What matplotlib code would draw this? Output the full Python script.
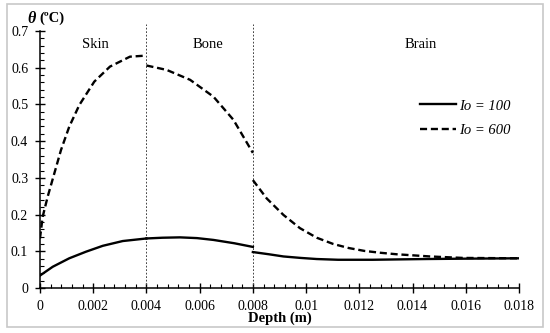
import matplotlib
matplotlib.use('Agg')
import matplotlib.pyplot as plt
from matplotlib.patches import Rectangle
from matplotlib.ticker import MultipleLocator

plt.rcParams['font.family'] = ['Liberation Serif', 'DejaVu Serif']

# Io = 100, solid line, one piece per layer
skin_x_100 = [0.0, 0.00048, 0.0011, 0.00173, 0.00236, 0.00311, 0.004]
skin_y_100 = [0.034, 0.058, 0.081, 0.099, 0.115, 0.128, 0.135]
bone_x_100 = [0.004, 0.0046, 0.00526, 0.0059, 0.00652, 0.0073, 0.008]
bone_y_100 = [0.135, 0.137, 0.138, 0.136, 0.131, 0.122, 0.112]
brain_x_100 = [0.008, 0.0086, 0.00915, 0.0098, 0.0104, 0.0112, 0.0125, 0.0145, 0.016, 0.018]
brain_y_100 = [0.098, 0.092, 0.086, 0.082, 0.079, 0.077, 0.077, 0.079, 0.080, 0.081]

# Io = 600, dashed line
skin_x_600 = [0.0, 0.0001, 0.00029, 0.00054, 0.00079, 0.0011, 0.00148, 0.00204,
              0.00263, 0.00338, 0.004]
skin_y_600 = [0.135, 0.194, 0.249, 0.3125, 0.376, 0.4395, 0.4986, 0.562,
              0.603, 0.630, 0.633]
bone_x_600 = [0.004, 0.00476, 0.00564, 0.00652, 0.00727, 0.008]
bone_y_600 = [0.606, 0.594, 0.567, 0.521, 0.458, 0.368]
brain_x_600 = [0.008, 0.00852, 0.00915, 0.00977, 0.0104, 0.01102, 0.0116, 0.0122,
               0.0128, 0.0134, 0.01466, 0.0159, 0.018]
brain_y_600 = [0.294, 0.244, 0.199, 0.163, 0.137, 0.120, 0.109, 0.101,
               0.096, 0.092, 0.086, 0.082, 0.081]

layer_names = ['Skin', 'Bone', 'Brain']
layer_label_x = [0.0021, 0.0063, 0.0143]
boundaries = [0.004, 0.008]

fig = plt.figure(figsize=(5.5, 3.33), dpi=100)
ax = fig.add_axes([0.0727, 0.135, 0.8709, 0.772])

fig.patches.append(Rectangle((7 / 550, 6 / 333), 536 / 550, 323 / 333,
                             transform=fig.transFigure, fill=False,
                             edgecolor='#c8c8c8', linewidth=1.2))

for b in boundaries:
    ax.plot([b, b], [0, 0.72], color='#444444', lw=0.7, ls=(0, (1.8, 1.8)), clip_on=False)

ax.plot(skin_x_100, skin_y_100, 'k-', lw=1.7, label='Io = 100')
ax.plot(bone_x_100, bone_y_100, 'k-', lw=1.7)
ax.plot(brain_x_100, brain_y_100, 'k-', lw=1.7)

dash = (0, (3, 1.6))
ax.plot(skin_x_600, skin_y_600, color='k', ls=dash, lw=1.7, label='Io = 600')
ax.plot(bone_x_600, bone_y_600, color='k', ls=dash, lw=1.7)
ax.plot(brain_x_600, brain_y_600, color='k', ls=dash, lw=1.7)

for name, lx in zip(layer_names, layer_label_x):
    ax.text(lx, 0.664, name, ha='center', va='center', fontsize=10.5)

ax.set_xlim(0, 0.018)
ax.set_ylim(0, 0.7)
ax.xaxis.set_minor_locator(MultipleLocator(0.0004))
ax.yaxis.set_minor_locator(MultipleLocator(0.02))
ax.set_xticks([0, 0.002, 0.004, 0.006, 0.008, 0.01, 0.012, 0.014, 0.016, 0.018])
ax.set_xticklabels(['0', '0.002', '0.004', '0.006', '0.008', '0.01', '0.012', '0.014', '0.016', '0.018'])
ax.set_yticks([0, 0.1, 0.2, 0.3, 0.4, 0.5, 0.6, 0.7])
ax.set_yticklabels(['0', '0.1', '0.2', '0.3', '0.4', '0.5', '0.6', '0.7'])
ax.tick_params(which='major', direction='inout', length=7, width=1, labelsize=10, pad=5)
ax.tick_params(which='minor', direction='in', length=3, width=0.8)

for s in ['top', 'right']:
    ax.spines[s].set_visible(False)
for s in ['left', 'bottom']:
    ax.spines[s].set_linewidth(1.1)

ax.set_xlabel('Depth (m)', fontsize=10.5, fontweight='bold', labelpad=-1)
fig.text(27 / 550, 0.944, 'θ', fontsize=11.5, fontweight='bold', fontstyle='italic',
         ha='left', va='center')
fig.text(39 / 550, 0.944, '(ºC)', fontsize=10.5, fontweight='bold', ha='left', va='center')

leg = ax.legend(loc='upper right', bbox_to_anchor=(1.01, 0.785), frameon=False,
                handlelength=2.5, handletextpad=0.2, labelspacing=0.8,
                prop={'style': 'italic', 'size': 10.5})

fig.savefig('out.png', dpi=100)
